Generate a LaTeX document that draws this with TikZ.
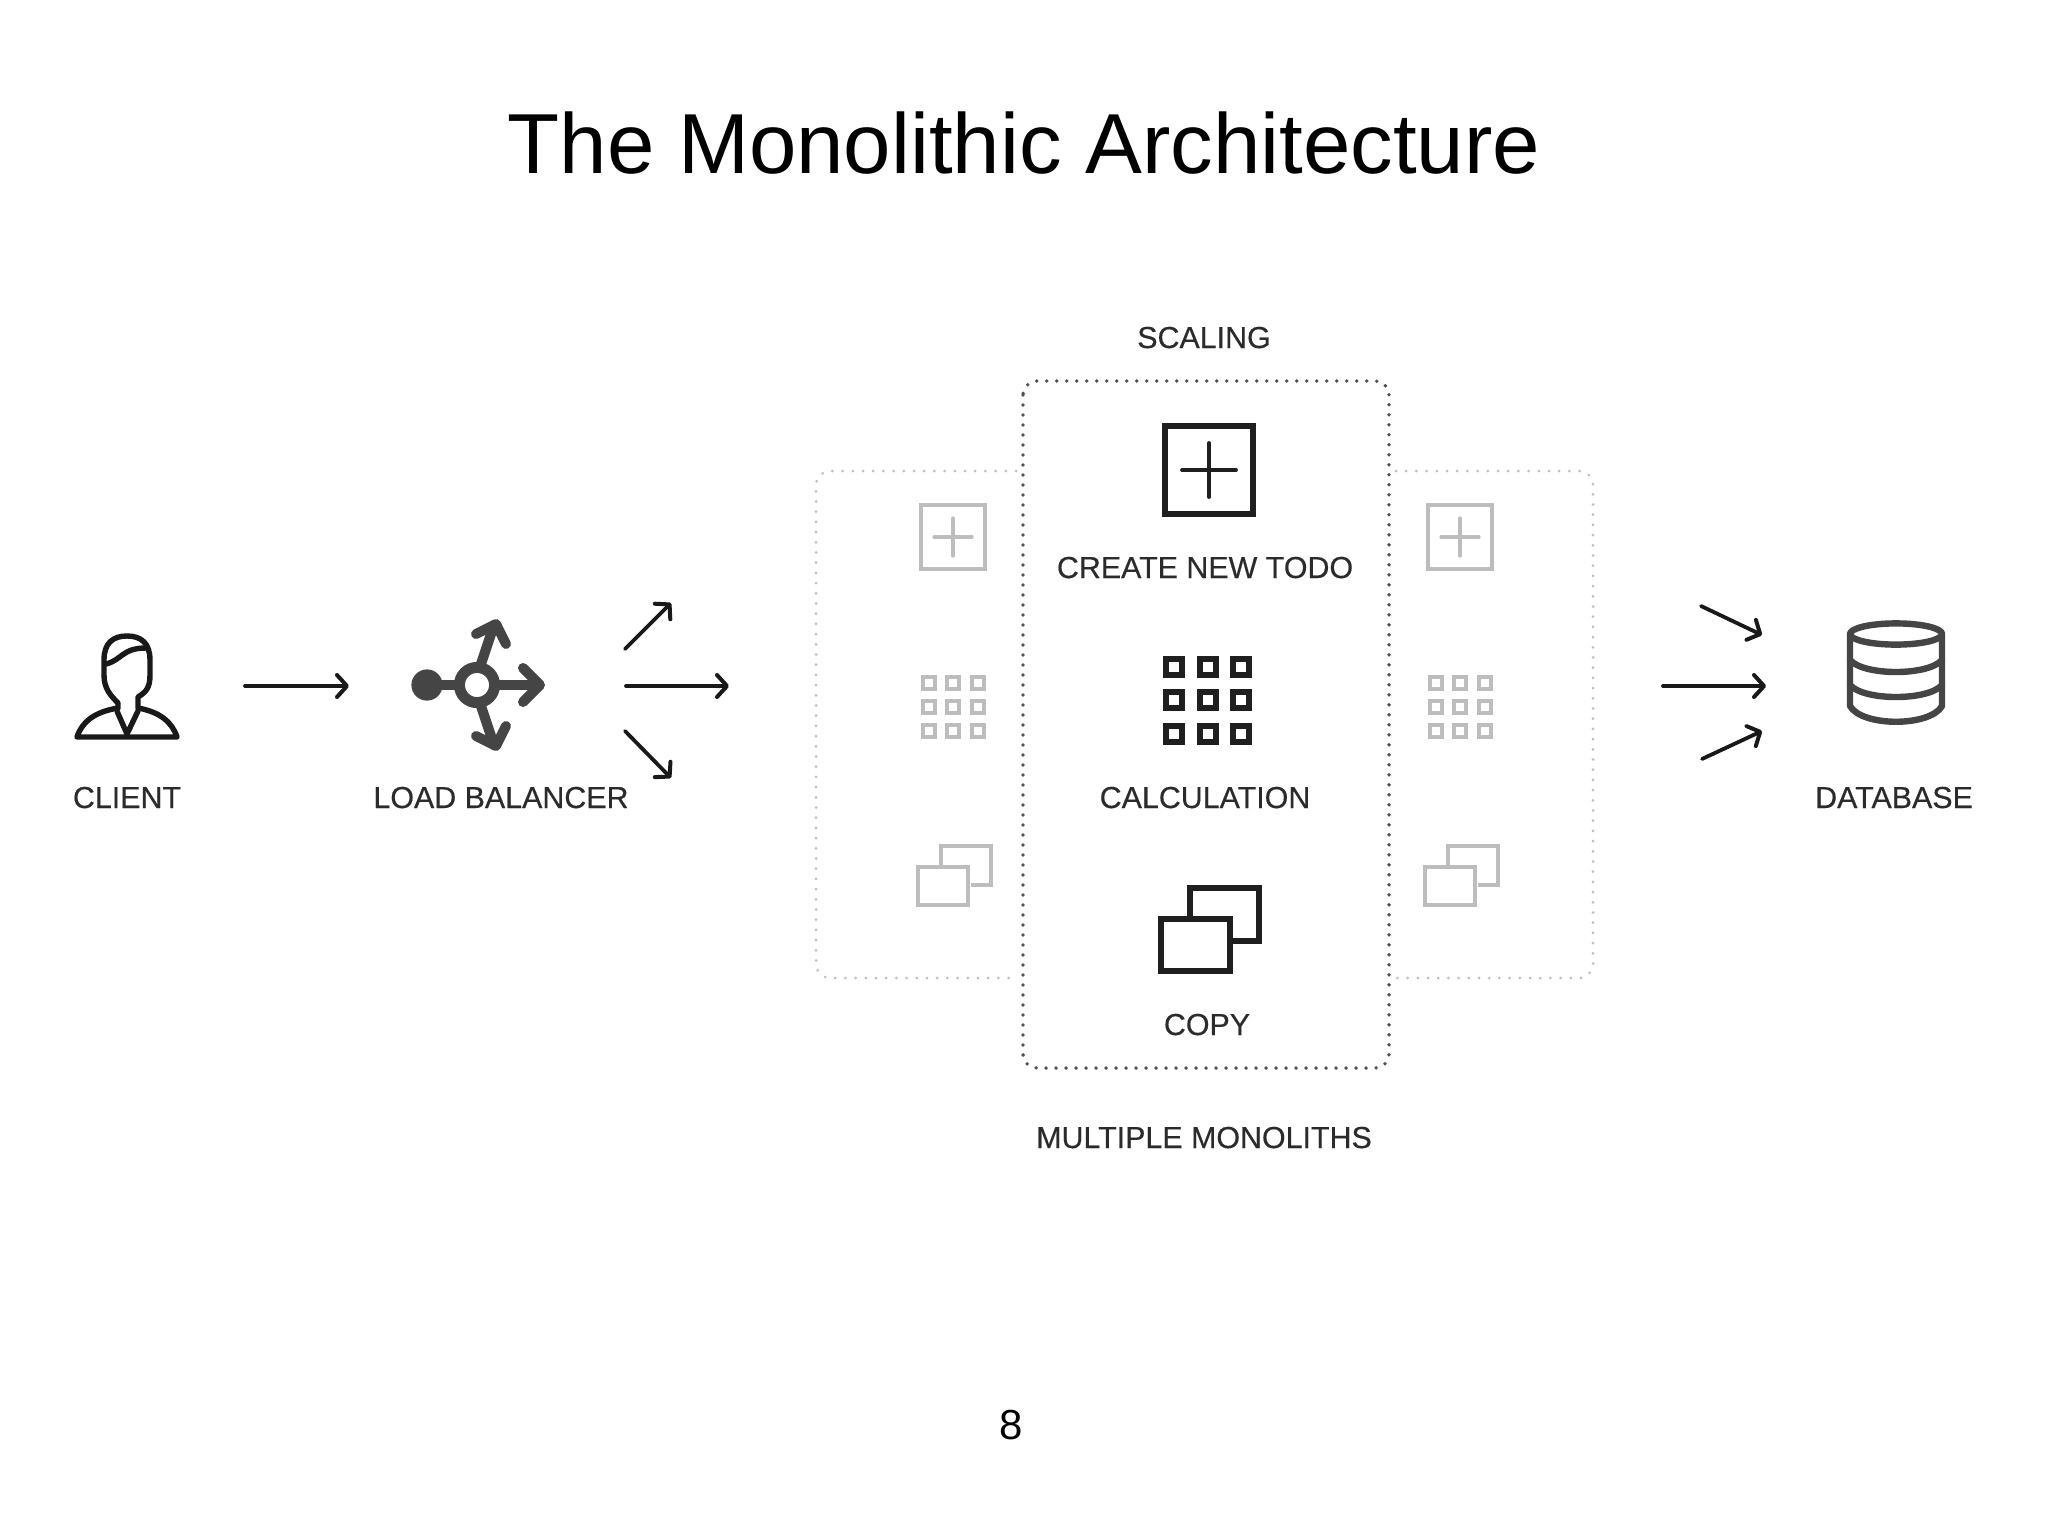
\documentclass[tikz,border=0pt]{standalone}
\usepackage{fontspec}
\setmainfont{Liberation Sans}
\newfontfamily\labelfont[FakeBold=0.35]{Liberation Sans}
\usetikzlibrary{arrows.meta}
\definecolor{ink}{HTML}{2B2B2B}
\definecolor{iconink}{HTML}{454545}
\definecolor{ghost}{HTML}{BDBDBD}
\definecolor{dotdark}{HTML}{505050}
\definecolor{dotlight}{HTML}{BEBEBE}
\tikzset{
  x=0.5pt,y=-0.5pt,
  label/.style={anchor=base,inner sep=0pt,text=ink,font=\labelfont\fontsize{15.2pt}{18pt}\selectfont},
  flow/.style={line width=1.9pt,black!90,line cap=round,-{Straight Barb[length=5pt,width=11pt,line width=2pt,round]}},
  iconline/.style={line width=2.7pt,black!88,line join=miter},
  iconthin/.style={line width=1.9pt,black!88,line cap=round},
  ghostline/.style={line width=2.1pt,ghost,line join=miter},
  ghostthin/.style={line width=1.6pt,ghost,line cap=round},
  dotsdark/.style={line width=1.9pt,dotdark,line cap=round,dash pattern=on 0pt off 5pt},
  dotslight/.style={line width=1.5pt,dotlight,line cap=round,dash pattern=on 0pt off 5.1pt},
  lbline/.style={line width=5pt,iconink,line cap=round,line join=round},
  dbline/.style={line width=3.2pt,iconink,line cap=round,line join=round},
}
\newcommand{\plusicon}[6]{% cx cy half arm boxstyle armstyle
  \draw[#5] (#1-#3,#2-#3) rectangle (#1+#3,#2+#3);
  \draw[#6] (#1-#4,#2) -- (#1+#4,#2) (#1,#2-#4) -- (#1,#2+#4);
}
\begin{document}
\begin{tikzpicture}
\useasboundingbox[fill=white] (0,0) rectangle (2048,1536);

% titles
\node[anchor=base,inner sep=0pt,font=\fontsize{42.6pt}{50pt}\selectfont] (title) at (1024,173) {The Monolithic Architecture};
\node[anchor=base,inner sep=0pt,font=\fontsize{21pt}{25pt}\selectfont] (page) at (1011,1439) {8};

% labels
\node[label] (client) at (127,808) {CLIENT};
\node[label] (lb) at (501,808) {LOAD BALANCER};
\node[label] (db) at (1894,808) {DATABASE};
\node[label] (scaling) at (1204,348) {SCALING};
\node[label] (todo) at (1205,578) {CREATE NEW TODO};
\node[label] (calc) at (1205,808) {CALCULATION};
\node[label] (copy) at (1207,1035) {COPY};
\node[label] (multi) at (1204,1148) {MULTIPLE MONOLITHS};

% dotted frames
\draw[dotslight,rounded corners=7pt] (1016,471) -- (816,471) -- (816,978) -- (1016,978);
\draw[dotslight,rounded corners=7pt] (1396,471) -- (1593,471) -- (1593,978) -- (1396,978);
\draw[dotsdark,rounded corners=7pt] (1023,381) rectangle (1389,1068);

% central icons
\plusicon{1209}{470}{44}{27}{iconline}{iconthin}
\foreach \cx in {1174,1208,1241}
  \foreach \cy in {667,700,734}
    \draw[iconline] (\cx-8,\cy-8) rectangle (\cx+8,\cy+8);
\draw[iconline] (1190,918) -- (1190,888) -- (1259,888) -- (1259,941) -- (1230,941);
\draw[iconline] (1161,919) rectangle (1230,971);

% ghost icons
\foreach \dx in {0,507}{
  \begin{scope}[xshift=\dx*0.5pt]
    \plusicon{953}{537}{32}{19}{ghostline}{ghostthin}
    \foreach \cx in {929,953,978}
      \foreach \cy in {683,707,731}
        \draw[ghostline,line width=2.1pt] (\cx-6,\cy-6) rectangle (\cx+6,\cy+6);
    \draw[ghostline] (941,866) -- (941,846) -- (991,846) -- (991,885) -- (971,885);
    \draw[ghostline] (918,867) rectangle (968,905);
  \end{scope}
}

% client icon
\draw[line width=2.7pt,black!90,line join=round,line cap=round]
  (118,703) .. controls (110,695) and (104,688) .. (104,675)
  -- (104,660) .. controls (104,643) and (113,636) .. (127,636)
  .. controls (141,636) and (150,643) .. (150,660)
  -- (150,675) .. controls (150,688) and (146,692) .. (138,697)
  -- (138,708) .. controls (160,712) and (172,722) .. (177,737)
  -- (77,737) .. controls (82,722) and (94,712) .. (118,708) -- cycle;
\draw[line width=2.7pt,black!90,line join=round,line cap=round]
  (106,664) .. controls (122,660) and (122,648) .. (146,648)
  (117,711) -- (127,734) -- (138,711);

% load balancer icon
\draw[lbline] (427,685) -- (456,685);
\fill[iconink] (427,685) circle (7.8pt);
\draw[line width=5.5pt,iconink] (477,685) circle (8.8pt);
\draw[lbline] (498,685) -- (538,685);
\draw[lbline] (523,668) -- (540,685) -- (523,702);
\draw[lbline] (481,664) -- (494,625);
\draw[lbline] (476,634) -- (496,624) -- (506,644);
\draw[lbline] (481,706) -- (494,745);
\draw[lbline] (476,736) -- (496,746) -- (506,726);

% database icon
\draw[dbline] (1896,634) ellipse (23pt and 5.3pt);
\draw[dbline] (1850,634) -- (1850,706) .. controls (1862,727) and (1930,727) .. (1942,706) -- (1942,634);
\draw[dbline] (1850,660) .. controls (1864,676) and (1928,676) .. (1942,660);
\draw[dbline] (1850,685) .. controls (1864,701) and (1928,701) .. (1942,685);

% connectors
\coordinate (a1) at (245,686); \coordinate (a2) at (349,686);
\coordinate (b1) at (626,686); \coordinate (b2) at (729,686);
\coordinate (c1) at (625,649); \coordinate (c2) at (671,603);
\coordinate (d1) at (625,731); \coordinate (d2) at (671,778);
\coordinate (e1) at (1663,686); \coordinate (e2) at (1766,686);
\coordinate (f1) at (1701,606); \coordinate (f2) at (1762,635);
\coordinate (g1) at (1702,759); \coordinate (g2) at (1762,731);
\draw[flow] (a1) -- (a2);
\draw[flow] (b1) -- (b2);
\draw[flow] (c1) -- (c2);
\draw[flow] (d1) -- (d2);
\draw[flow] (e1) -- (e2);
\draw[flow] (f1) -- (f2);
\draw[flow] (g1) -- (g2);
\end{tikzpicture}
\end{document}
